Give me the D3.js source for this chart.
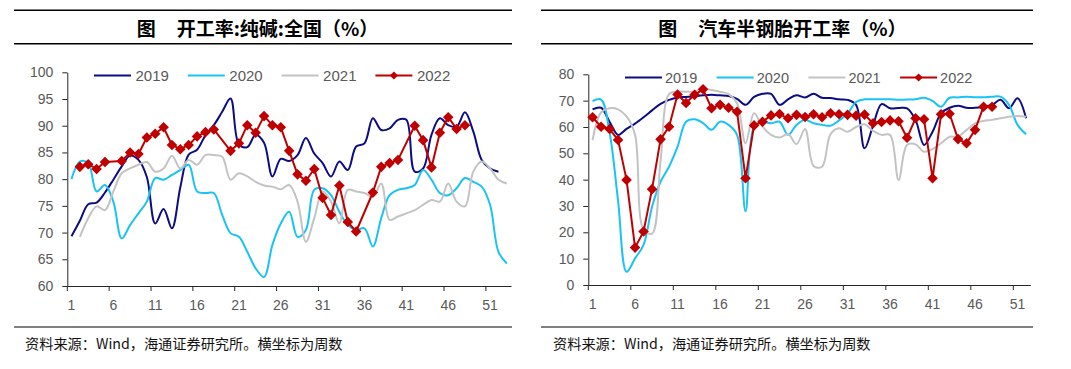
<!DOCTYPE html>
<html>
<head>
<meta charset="utf-8">
<script src="https://cdn.jsdelivr.net/npm/d3@7"></script>
<style>
body { margin: 0; background: #fff; }
svg { display: block; font-family: "Liberation Sans", Arial, sans-serif; }
.axis .tick text { fill: #595959; font-size: 14px; }
.axis path, .axis line { stroke: #262626; }
</style>
</head>
<body>
<svg width="1071" height="369"></svg>
<script>
// categories (week numbers)
var weeksLeft = d3.range(1, 54);
var weeksRight = d3.range(1, 53);
var xTickWeeks = [1, 6, 11, 16, 21, 26, 31, 36, 41, 46, 51];
var yTicksLeft = [60, 65, 70, 75, 80, 85, 90, 95, 100];
var yTicksRight = [0, 10, 20, 30, 40, 50, 60, 70, 80];
var years = ["2019", "2020", "2021", "2022"];

// 开工率:纯碱:全国
var soda2019 = [69.3, 72.2, 75.3, 75.6, 77.5, 79.9, 82.4, 84.4, 83.6, 80.4,
  71.7, 74.4, 70.8, 78.5, 84.6, 85.5, 88.2, 90.1, 92.6, 95.1,
  86.5, 86, 88.3, 86.8, 80.5, 83.8, 83.4, 84.5, 87.7, 84.8,
  83, 80.5, 83.3, 81.7, 86.1, 86.7, 91.4, 89.2, 89.5, 91.1,
  91.1, 81.4, 82, 88.3, 91.4, 90.1, 89.8, 92.5, 88.9, 83.6,
  82, 81.4, null];
var soda2020 = [80, 83.3, 83, 77.7, 78.9, 75.8, 68.9, 71.4, 73.6, 75.8,
  80.2, 79.9, 80.8, 81.7, 82.7, 77.7, 77.4, 77.4, 73.3, 69.9,
  69.2, 66.4, 63.3, 61.7, 67.7, 71.7, 73.9, 69.2, 70.5, 78,
  78.3, 77, 73.9, 71.4, 70.5, 70.8, 67.4, 72.7, 77, 78,
  78.3, 78.9, 81.7, 79.9, 77.4, 77, 78.3, 80.2, 79.5, 78.6,
  75.2, 66.4, 64.2];
var soda2021 = [null, 69.2, 72.7, 74.9, 74.2, 77.7, 81.1, 82, 82.7, 83.2,
  81.4, 82, 84.4, 82, 83.6, 82.7, 84.5, 84.5, 84.2, 79.9,
  81.1, 80.5, 79.5, 78.8, 78.6, 78.1, 78.9, 75.8, 68.3, 72.7,
  77.7, 75.8, 71.7, 78, 77.7, 77.4, 76.7, 79.2, 72.4, 73,
  73.6, 74.2, 75.2, 76.1, 75.8, 79.2, 75.8, 74.9, 81.4, 83.3,
  82, 79.9, 79.2];
var soda2022 = [null, 82.3, 82.8, 81.9, 83.2, null, 83.4, 85, 84.7, 87.8,
  88.5, 89.7, 86.4, 85.6, 86.4, 88, 88.8, 89.3, null, 85.3,
  86.7, 90.1, 88.7, 91.8, 90.1, 89.7, 85.3, 80.9, 79.7, 81.9,
  76.5, 73.3, 78.8, 72, 70.2, null, 77.5, 82.3, 83, 83.6,
  null, 90, 87.3, 82.2, 88.7, 91.6, 89.4, 90.1, null, null,
  null, null, null];

// 汽车半钢胎开工率
var tire2019 = [66.7, 67.3, 62, 57, 59.3, 61.3, 63.7, 66.3, 68.8, 70.3,
  71.2, 71.4, 71.7, 72, 72.2, 72, 71.8, 70.7, 68.4, 71.4,
  72.6, 72.6, 68.4, 70.5, 72, 71.2, 72.6, 71.1, 71, 70.5,
  70.3, 68.4, 51.9, 60.5, 68.7, 67.1, 67.2, 67.1, 62.7, 53.2,
  58.2, 65.2, 67.3, 68.1, 67.3, 67.3, 67.7, 68.4, 70.3, 67.1,
  70.9, 63.3];
var tire2020 = [69.8, 70.4, 58, 32, 5, 10.1, 15.2, 29.7, 39.2, 44.9,
  52.5, 62, 62.9, 61.5, 58.9, 62, 60.8, 57, 28, 60.1,
  62, 61.4, 62, 57, 60.8, 62.7, 61.4, 60.8, 60.5, 62.5,
  65, 69.5, 70.5, 70.5, 70.5, 70.5, 70.3, 70.4, 70.5, 71.1,
  69.9, 67.7, 71.1, 71.2, 71.5, 71.3, 71.3, 71.5, 71.5, 68.4,
  60.8, 57.2];
var tire2021 = [55, 65.5, 67.1, 66.7, 64, 57, 21, 19.5, 47, 72.5,
  73.4, 73.4, 73.5, 74.5, 74, 73.4, 72.5, 69, 53.8, 65.2,
  60.1, 57, 56, 57.3, 53.5, 59.2, 45.2, 44.9, 57.3, 59.5,
  58.2, 60, 61, 58.5, 57, 57, 39.9, 53.2, 53.4, 50.6,
  51.6, 53.8, 56.3, 56.3, 58.9, 61.4, 62.3, 62.7, 63.3, 63.9,
  64.2, 63.9];
var tire2022 = [63.7, 60.1, 59.2, 55.1, 39.9, 14.2, 20.3, 36.4, 55.3, 60.1,
  72.3, 69.1, 72.2, 74.3, 67.1, 68.4, 67.3, 65.8, 40.5, 60.6,
  62, 64.4, 64.9, 63.3, 64.6, 63.8, 64.8, 63.7, 65.2, 64.8,
  64.6, 64.3, 64.7, 61.4, 61.9, 62.5, 62.2, 55.9, 63.3, 62.9,
  40.5, 64.8, 65, 55.4, 53.8, 58.9, 67.7, 67.7, null, null,
  null, null];

var colors = ["#0c0c84", "#19c3f3", "#c3c3c3", "#c00000"];

var svg = d3.select("svg");
svg.append("rect").attr("width", 1071).attr("height", 369).attr("fill", "#fff");

var diamond = d3.symbol().type(d3.symbolSquare);

function drawPanel(p) {
  var x = d3.scaleBand().domain(p.weeks).range([p.x0, p.x1]);
  var y = d3.scaleLinear().domain(p.yDomain).range([p.yBottom, p.yTop]);
  var g = svg.append("g");

  // header rules and title
  g.selectAll("line.rule")
  .data([10.3, 43.7, 327])
  .enter().append("line")
  .attr("class", "rule")
  .attr("x1", p.ruleX0).attr("x2", p.ruleX1)
  .attr("y1", function(d) { return d; }).attr("y2", function(d) { return d; })
  .attr("stroke", "#000")
  .attr("stroke-width", function(d, i) { return i < 2 ? 1.5 : 1.2; });

  g.append("text")
  .attr("x", p.titleX).attr("y", 27)
  .attr("dominant-baseline", "central")
  .style("font-family", "'Noto Sans CJK SC'")
  .style("font-weight", "bold")
  .style("font-size", "19px")
  .text("图");
  g.append("text")
  .attr("x", p.titleX + 40).attr("y", 27)
  .attr("dominant-baseline", "central")
  .style("font-family", "'Noto Sans CJK SC'")
  .style("font-weight", "bold")
  .style("font-size", "19px")
  .text(p.title);

  g.append("text")
  .attr("x", p.noteX).attr("y", 342.5)
  .attr("dominant-baseline", "central")
  .style("font-family", "'Noto Sans CJK SC'")
  .style("font-size", "14.2px")
  .attr("fill", "#111")
  .text("资料来源：Wind，海通证券研究所。横坐标为周数");

  // axes
  g.append("g")
  .attr("class", "axis")
  .attr("transform", "translate(" + p.x0 + ",0)")
  .call(d3.axisLeft(y).tickValues(p.yTicks).tickSize(5).tickSizeOuter(0).tickPadding(9));

  g.append("g")
  .attr("class", "axis")
  .attr("transform", "translate(0," + p.yBottom + ")")
  .call(d3.axisBottom(x).tickValues(xTickWeeks).tickSize(0).tickSizeOuter(0).tickPadding(14));

  g.selectAll("line.xtick")
  .data(xTickWeeks)
  .enter().append("line")
  .attr("class", "xtick")
  .attr("x1", function(d) { return x(d); })
  .attr("x2", function(d) { return x(d); })
  .attr("y1", p.yBottom).attr("y2", p.yBottom + 5)
  .attr("stroke", "#262626");

  var cx = function(d) { return x(d.w) + x.bandwidth() / 2; };

  // series
  p.series.forEach(function(s, i) {
    var pts = s.values
    .map(function(v, j) { return { w: p.weeks[j], v: v }; })
    .filter(function(d) { return d.v != null; });

    var line = d3.line()
    .x(cx)
    .y(function(d) { return y(d.v); })
    .curve(i < 3 ? d3.curveCatmullRom : d3.curveLinear);

    g.append("path")
    .datum(pts)
    .attr("d", line)
    .attr("fill", "none")
    .attr("stroke", colors[i])
    .attr("stroke-width", 2)
    .attr("stroke-linejoin", "round");

    if (i == 3) {
      g.selectAll("path.mark")
      .data(pts)
      .enter().append("path")
      .attr("class", "mark")
      .attr("d", diamond.size(56)())
      .attr("transform", function(d) {
        return "translate(" + cx(d) + "," + y(d.v) + ") rotate(45)";
      })
      .attr("fill", colors[i]);
    }
  });

  // legend
  var leg = g.selectAll("g.legend")
  .data(years)
  .enter().append("g")
  .attr("class", "legend")
  .attr("transform", function(d, i) {
    return "translate(" + (p.legX + i * p.legStep) + "," + p.legY + ")";
  });

  leg.append("line")
  .attr("x1", 0).attr("x2", 37)
  .attr("stroke", function(d, i) { return colors[i]; })
  .attr("stroke-width", 2);

  leg.filter(function(d, i) { return i == 3; })
  .append("path")
  .attr("d", diamond.size(34)())
  .attr("transform", "translate(18.5,0) rotate(45)")
  .attr("fill", colors[3]);

  leg.append("text")
  .attr("x", p.legText)
  .attr("dominant-baseline", "central")
  .attr("fill", "#595959")
  .style("font-size", p.legFont)
  .text(function(d) { return d; });
}

drawPanel({
  weeks: weeksLeft,
  x0: 67.3, x1: 511,
  yDomain: [60, 100], yTicks: yTicksLeft,
  yBottom: 286, yTop: 72.3,
  ruleX0: 14, ruleX1: 512,
  titleX: 136.7, title: "开工率:纯碱:全国（%）",
  noteX: 25,
  legX: 94, legStep: 93.8, legY: 75.5, legText: 41.5, legFont: "15px",
  series: [soda2019, soda2020, soda2021, soda2022].map(function(v) { return { values: v }; })
});

drawPanel({
  weeks: weeksRight,
  x0: 588.3, x1: 1030.3,
  yDomain: [0, 80], yTicks: yTicksRight,
  yBottom: 285, yTop: 74.3,
  ruleX0: 541, ruleX1: 1033,
  titleX: 658.3, title: "汽车半钢胎开工率（%）",
  noteX: 553,
  legX: 625, legStep: 91.7, legY: 77.5, legText: 40, legFont: "14.5px",
  series: [tire2019, tire2020, tire2021, tire2022].map(function(v) { return { values: v }; })
});
</script>
</body>
</html>
